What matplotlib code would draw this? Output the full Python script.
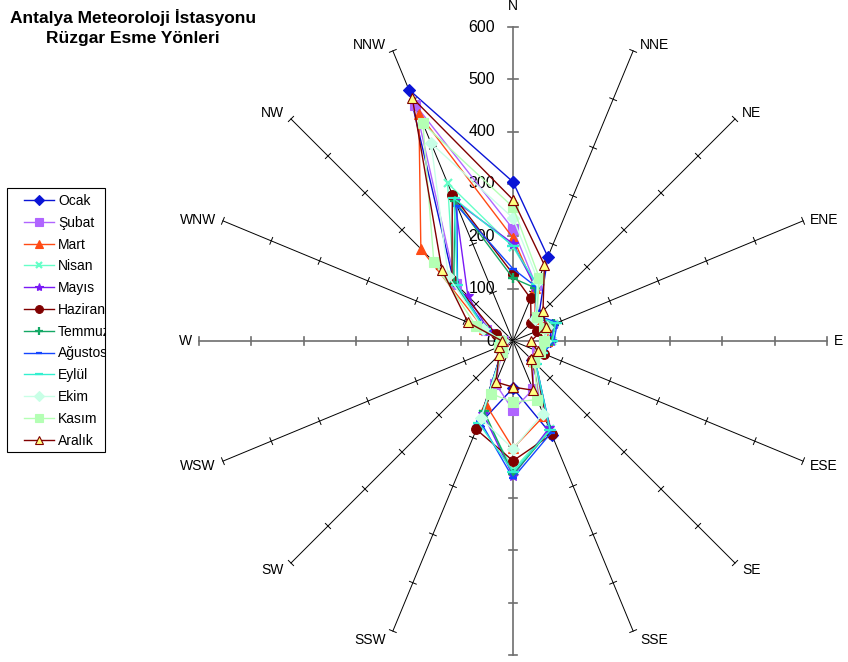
import numpy as np
import matplotlib.pyplot as plt
from matplotlib.lines import Line2D
from matplotlib.patches import Rectangle

plt.rcParams['font.family'] = ['Liberation Sans', 'DejaVu Sans']

# wind directions, clockwise from north
directions = ["N", "NNE", "NE", "ENE", "E", "ESE", "SE", "SSE",
              "S", "SSW", "SW", "WSW", "W", "WNW", "NW", "NNW"]
months = ["Ocak", "Şubat", "Mart", "Nisan", "Mayıs", "Haziran",
          "Temmuz", "Ağustos", "Eylül", "Ekim", "Kasım", "Aralık"]

# counts per direction for each month
ocak = [304, 174, 70, 80, 70, 55, 50, 195, 90, 175, 30, 25, 20, 60, 160, 520]
subat = [214, 115, 60, 70, 60, 50, 55, 100, 132, 88, 30, 25, 20, 55, 155, 489]
mart = [197, 110, 60, 75, 65, 50, 55, 155, 205, 133, 30, 25, 20, 60, 249, 470]
nisan = [180, 115, 65, 85, 75, 60, 60, 183, 246, 150, 30, 25, 22, 60, 160, 327]
mayis = [186, 112, 62, 85, 72, 58, 58, 180, 258, 150, 32, 28, 22, 50, 122, 290]
haziran = [128, 88, 49, 50, 65, 65, 50, 193, 229, 183, 30, 25, 20, 36, 165, 303]
temmuz = [120, 110, 65, 85, 75, 60, 62, 185, 255, 145, 30, 25, 22, 55, 160, 290]
agustos = [138, 113, 68, 92, 78, 62, 62, 190, 262, 165, 32, 28, 24, 54, 150, 280]
eylul = [182, 118, 65, 88, 75, 60, 62, 185, 250, 170, 30, 25, 22, 58, 150, 295]
ekim = [235, 125, 60, 70, 62, 55, 58, 150, 206, 160, 28, 25, 20, 62, 175, 409]
kasim = [256, 131, 65, 65, 60, 55, 58, 121, 117, 109, 30, 28, 22, 77, 214, 450]
aralik = [270, 157, 81, 68, 34, 51, 49, 102, 88, 85, 38, 29, 21, 93, 192, 503]

series = [ocak, subat, mart, nisan, mayis, haziran,
          temmuz, agustos, eylul, ekim, kasim, aralik]

colors = ["#0A14D6", "#B065FF", "#FF4A14", "#66FFC8", "#7A1AF5", "#800000",
          "#14A865", "#1446FF", "#33F0D0", "#C8FFE6", "#B4FFB4", "#800000"]
markers = ["D", "s", "^", "x", "*", "o", "+", "_", "_", "D", "s", "^"]
marker_sizes = [6, 6.5, 7, 6, 7.5, 7, 7, 6, 8, 6, 6.5, 7]
marker_faces = colors[:11] + ["#FFFF80"]

ticks = [0, 100, 200, 300, 400, 500, 600]

# pixel layout of the rose
W, H = 848, 662
cx, cy = 513, 341
px = 314 / 600

fig = plt.figure(figsize=(W / 100, H / 100), dpi=100)
ax = fig.add_axes([0, 0, 1, 1])
ax.set_xlim(-cx / px, (W - cx) / px)
ax.set_ylim(-(H - cy) / px, cy / px)
ax.set_aspect('equal')
ax.axis('off')

angles = np.deg2rad(np.arange(len(directions)) * 22.5)
sx, sy = np.sin(angles), np.cos(angles)

# label offsets from the spoke end, in pixels (up)
label_dy = [21, 6, 6, 1, 0, -5, -7, -9, 0, -9, -7, -5, 0, 1, 6, 6]

# spokes with tick marks
rmax = ticks[-1]
for i in range(len(directions)):
    main = i % 4 == 0
    col = "#6E6E6E" if main else "black"
    lw = 1.2 if main else 0.7
    ax.plot([0, rmax * sx[i]], [0, rmax * sy[i]], color=col, lw=lw, zorder=1)
    half = 9 if i == 0 else 7
    nx, ny = np.cos(angles[i]), -np.sin(angles[i])
    for r in ticks[1:]:
        ax.plot([r * sx[i] - half * nx, r * sx[i] + half * nx],
                [r * sy[i] - half * ny, r * sy[i] + half * ny],
                color=col, lw=lw, zorder=1)
    if directions[i] == "S":
        continue  # falls below the bottom edge
    if i == 0:
        ha, dx = 'center', 0
    elif i < 8:
        ha, dx = 'left', 7
    else:
        ha, dx = 'right', -7
    ax.annotate(directions[i], (rmax * sx[i], rmax * sy[i]),
                xytext=(dx * 0.72, label_dy[i] * 0.72),
                textcoords='offset points', ha=ha, va='center',
                fontsize=10, color="black")

for r in ticks:
    ax.text(-34, r, str(r), ha='right', va='center', fontsize=11.5)

# one closed polygon per month
handles = []
for k, vals in enumerate(series):
    v = np.array(vals + vals[:1], dtype=float)
    xs = v * np.append(sx, sx[0])
    ys = v * np.append(sy, sy[0])
    mew = 1.6 if markers[k] in ("x", "+", "_") else 0.8
    ax.plot(xs, ys, color=colors[k], lw=1.0, marker=markers[k],
            ms=marker_sizes[k], mfc=marker_faces[k], mec=colors[k],
            mew=mew, zorder=2 + k)
    handles.append(Line2D([], [], color=colors[k], lw=1.0, marker=markers[k],
                          ms=marker_sizes[k], mfc=marker_faces[k],
                          mec=colors[k], mew=mew, label=months[k]))

# legend box drawn separately so long names get cut at its edge
box = Rectangle((7 / W, 1 - 452 / H), 98 / W, 264 / H,
                transform=fig.transFigure, facecolor="white",
                edgecolor="black", lw=0.8, zorder=25)
ax.add_patch(box)

leg = ax.legend(handles=handles, loc='upper left',
                bbox_to_anchor=(24 / W, 1 - 194 / H),
                bbox_transform=fig.transFigure, fontsize=10,
                frameon=False, labelspacing=0.56, handlelength=2.15,
                handletextpad=0.3, borderpad=0, borderaxespad=0,
                markerscale=0.8)
leg.set_zorder(30)
for t in leg.get_texts():
    t.set_clip_path(box)

fig.text(133 / W, 1 - 17 / H, "Antalya Meteoroloji İstasyonu",
         ha='center', va='center', fontsize=12.5, fontweight='bold')
fig.text(133 / W, 1 - 38 / H, "Rüzgar Esme Yönleri",
         ha='center', va='center', fontsize=12.5, fontweight='bold')

fig.savefig("out.png", dpi=100)
